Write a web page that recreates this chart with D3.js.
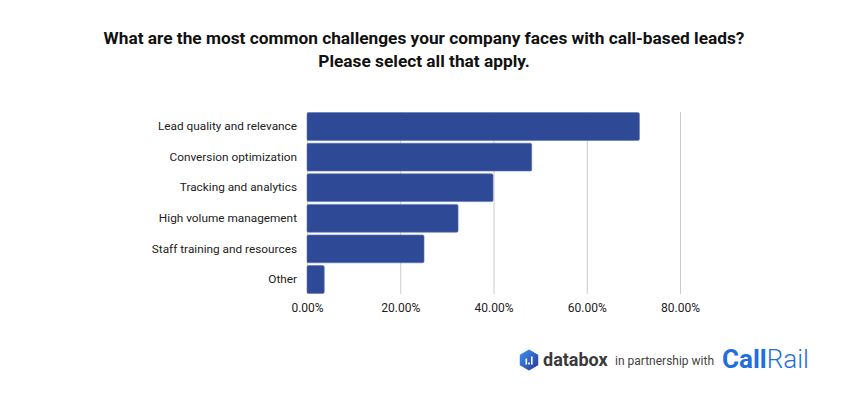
<!DOCTYPE html>
<html>
<head>
<meta charset="utf-8">
<script src="https://cdn.jsdelivr.net/npm/d3@7"></script>
<style>
  body { margin: 0; background: #fff; }
  svg { font-family: Roboto, "Noto Sans", sans-serif; }
</style>
</head>
<body>
<svg id="chart" width="850" height="400"></svg>
<script>
// Chart data
const categories = [
  'Lead quality and relevance',
  'Conversion optimization',
  'Tracking and analytics',
  'High volume management',
  'Staff training and resources',
  'Other'
];
const values = [71.3, 48.2, 39.9, 32.4, 25.1, 3.7];
const ticks = [0, 20, 40, 60, 80];
const titleLines = [
  'What are the most common challenges your company faces with call-based leads?',
  'Please select all that apply.'
];

const width = 850;
const height = 400;
const margin = { top: 112, right: 170, bottom: 106, left: 307 };
const barColor = '#2E4A96';

const svg = d3.select('#chart');

// Title
svg.append('g')
  .selectAll('text')
  .data(titleLines)
  .enter()
  .append('text')
  .attr('x', 424)
  .attr('y', (d, i) => 44 + i * 23)
  .attr('text-anchor', 'middle')
  .attr('font-size', '17.3px')
  .attr('font-weight', 'bold')
  .attr('fill', '#111')
  .text(d => d);

// Scales
const x = d3.scaleLinear()
  .domain([0, 80])
  .range([margin.left, 680]);

const y = d3.scaleBand()
  .domain(categories)
  .range([margin.top, 294])
  .paddingInner(0.09)
  .paddingOuter(0.02);

// Grid lines
svg.append('g')
  .attr('transform', `translate(0,${margin.top})`)
  .call(d3.axisBottom(x)
    .tickValues(ticks)
    .tickSize(294 - margin.top)
    .tickFormat('')
  )
  .call(g => g.select('.domain').remove())
  .selectAll('line')
  .attr('stroke', '#cccccc');

// Bars
svg.selectAll('.bar')
  .data(values)
  .enter()
  .append('rect')
  .attr('class', 'bar')
  .attr('x', x(0))
  .attr('y', (d, i) => y(categories[i]))
  .attr('width', d => x(d) - x(0))
  .attr('height', y.bandwidth())
  .attr('rx', 1.5)
  .attr('fill', barColor)
  .attr('stroke', '#5b72b3')
  .attr('stroke-width', 0.6);

// x axis labels
svg.append('g')
  .attr('transform', `translate(0,294)`)
  .call(d3.axisBottom(x)
    .tickValues(ticks)
    .tickSize(0)
    .tickPadding(9)
    .tickFormat(d => d.toFixed(2) + '%')
  )
  .call(g => g.select('.domain').remove())
  .selectAll('text')
  .attr('fill', '#222')
  .style('font-family', 'Roboto, sans-serif')
  .style('font-size', '12px');

// y axis labels
svg.append('g')
  .attr('transform', `translate(${margin.left},0)`)
  .call(d3.axisLeft(y).tickSize(0).tickPadding(10))
  .call(g => g.select('.domain').remove())
  .selectAll('text')
  .attr('fill', '#222')
  .style('font-family', 'Roboto, sans-serif')
  .style('font-size', '11.8px');

// Footer: databox logo + partner
const footer = svg.append('g');

const defs = svg.append('defs');
const grad = defs.append('linearGradient')
  .attr('id', 'dbgrad')
  .attr('x1', '0%').attr('y1', '0%')
  .attr('x2', '100%').attr('y2', '100%');
grad.append('stop').attr('offset', '0%').attr('stop-color', '#3b8ff0');
grad.append('stop').attr('offset', '100%').attr('stop-color', '#2a3a9a');

const hx = 529, hy = 360, hr = 9.5;
const hex = d3.range(6).map(i => {
  const a = Math.PI / 3 * i - Math.PI / 2;
  return [hx + hr * Math.cos(a), hy + hr * Math.sin(a)];
});
footer.append('path')
  .attr('d', d3.line().curve(d3.curveLinearClosed)(hex))
  .attr('fill', 'url(#dbgrad)')
  .attr('stroke', 'url(#dbgrad)')
  .attr('stroke-width', 2)
  .attr('stroke-linejoin', 'round');
[[-3.5, 2], [-0.8, -2], [2, 4]].forEach(([dx, h]) => {
  footer.append('rect')
    .attr('x', hx + dx)
    .attr('y', hy + 4.5 - (4 + h))
    .attr('width', 1.6)
    .attr('height', 4 + h)
    .attr('fill', '#fff');
});

footer.append('text')
  .attr('x', 543)
  .attr('y', 366)
  .attr('font-size', '18px')
  .attr('font-weight', 'bold')
  .attr('fill', '#3a3a3a')
  .text('databox');

footer.append('text')
  .attr('x', 615)
  .attr('y', 365)
  .attr('font-size', '12px')
  .attr('fill', '#444')
  .text('in partnership with');

const cr = footer.append('text')
  .attr('x', 722)
  .attr('y', 368)
  .attr('font-size', '26px')
  .attr('fill', '#1f6fde');
cr.append('tspan').attr('font-weight', 'bold').text('Call');
cr.append('tspan').attr('font-weight', 300).text('Rail');
</script>
</body>
</html>
